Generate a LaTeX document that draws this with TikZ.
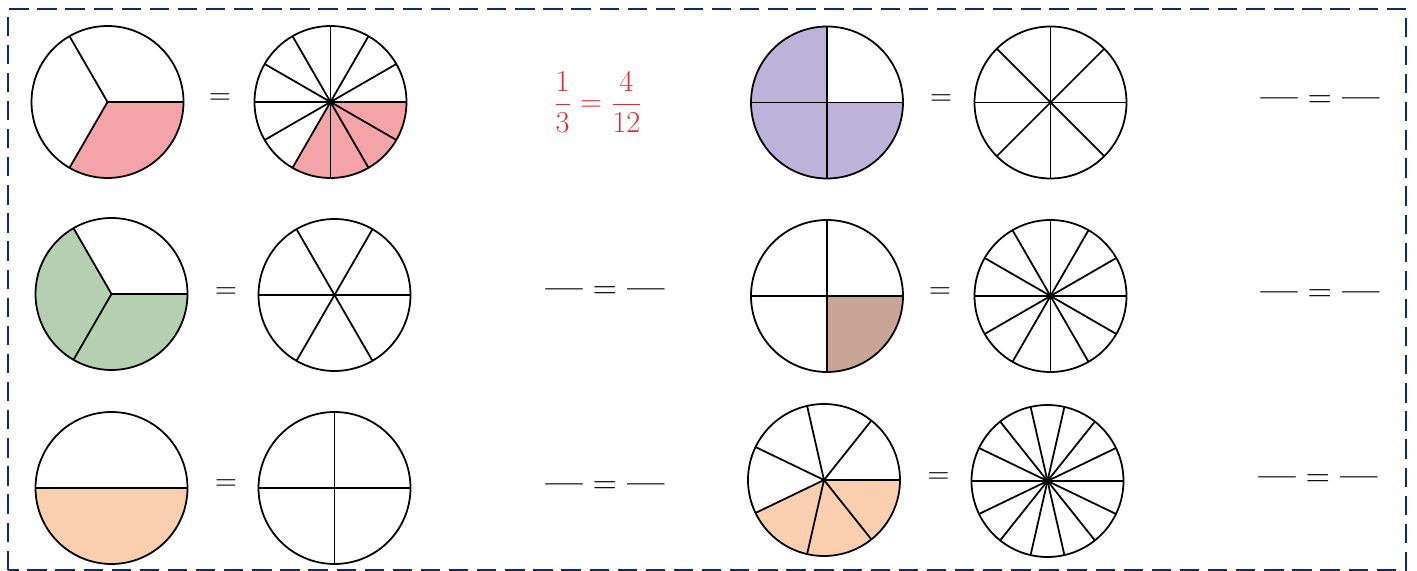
\documentclass[tikz,border=0pt]{standalone}
\usetikzlibrary{backgrounds}
\definecolor{framec}{RGB}{14,43,110}
\definecolor{pinkc}{RGB}{244,163,168}
\definecolor{greenc}{RGB}{180,208,176}
\definecolor{peachc}{RGB}{250,207,176}
\definecolor{purplec}{RGB}{187,179,218}
\definecolor{brownc}{RGB}{200,165,149}
\definecolor{redc}{RGB}{217,47,58}
\newcommand{\blankfrac}{{\bfseries---} = {\bfseries---}}
\begin{document}
\begin{tikzpicture}[x=0.02cm,y=0.02cm,every node/.style={font=\fontsize{19}{23}\selectfont},
  pie/.style={circle,draw,line width=1pt,minimum size=3.04cm,inner sep=0pt,outer sep=0pt},
  spoke/.style={line width=1pt}]
\useasboundingbox (0,0) rectangle (1417,571);
% dashed frame
\draw[framec,line width=1.3pt,dash pattern=on 11pt off 5pt] (8,1) rectangle (1406,562);
% row 1
\node[pie] (a1) at (107.5,469) {};
\node (ea) at (220,472) {$=$};
\node[pie] (a2) at (330.5,469) {};
\node[text=redc,font=\fontsize{17.5}{21}\selectfont] (fa) at (598,469) {$\displaystyle\frac{1}{3}=\frac{4}{12}$};
\node[pie] (b1) at (827,468.5) {};
\node (eb) at (941,471) {$=$};
\node[pie] (b2) at (1050.5,468.5) {};
\node (fb) at (1320,469) {\blankfrac};
% row 2
\node[pie] (c1) at (111.5,277) {};
\node (ec) at (226,278) {$=$};
\node[pie] (c2) at (334.5,276) {};
\node (fc) at (605,278) {\blankfrac};
\node[pie] (d1) at (827,275) {};
\node (ed) at (940,278) {$=$};
\node[pie] (d2) at (1050.5,275) {};
\node (fd) at (1320,275) {\blankfrac};
% row 3
\node[pie] (e1) at (111.5,83) {};
\node (ee) at (226,86) {$=$};
\node[pie] (e2) at (334.5,83) {};
\node (fe) at (605,83) {\blankfrac};
\node[pie] (f1) at (824,91) {};
\node (ef) at (938.5,93) {$=$};
\node[pie] (f2) at (1047.5,90) {};
\node (ff) at (1318,90) {\blankfrac};
% shaded parts
\begin{scope}[on background layer]
\fill[pinkc] (a1.center) -- (a1.-120) arc[start angle=-120,end angle=0,radius=1.52cm] -- cycle;
\fill[pinkc] (a2.center) -- (a2.-120) arc[start angle=-120,end angle=0,radius=1.52cm] -- cycle;
\fill[purplec] (b1.center) -- (b1.90) arc[start angle=90,end angle=360,radius=1.52cm] -- cycle;
\fill[greenc] (c1.center) -- (c1.120) arc[start angle=120,end angle=360,radius=1.52cm] -- cycle;
\fill[brownc] (d1.center) -- (d1.-90) arc[start angle=-90,end angle=0,radius=1.52cm] -- cycle;
\fill[peachc] (e1.center) -- (e1.180) arc[start angle=180,end angle=360,radius=1.52cm] -- cycle;
\fill[peachc] (f1.center) -- (f1.205.7143) arc[start angle=205.7143,end angle=360,radius=1.52cm] -- cycle;
\end{scope}
% spokes
\foreach \p/\n in {a1/3,a2/12,b1/4,b2/8,c1/3,c2/6,d1/4,d2/12,e1/2,e2/4,f1/7,f2/14}
  \foreach \k in {1,...,\n}
    \draw[spoke] (\p.center) -- ++({360/\n*\k}:1.52cm);
\end{tikzpicture}
\end{document}
